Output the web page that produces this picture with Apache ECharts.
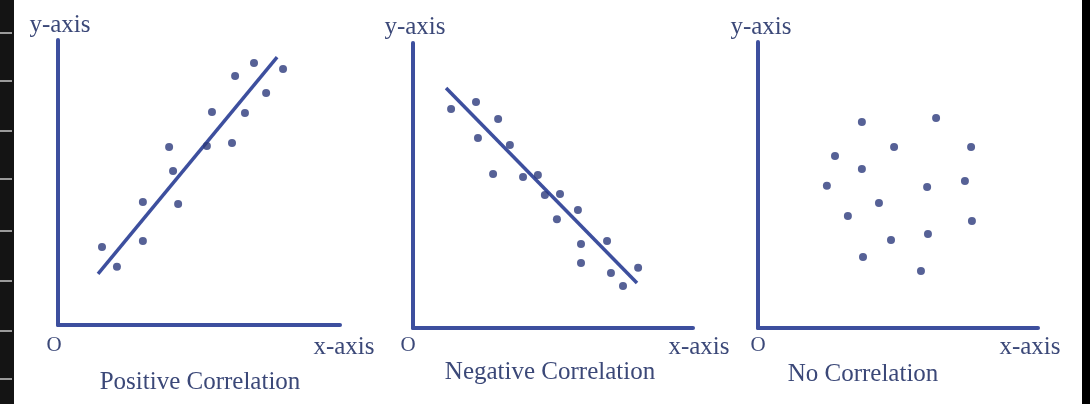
<!DOCTYPE html>
<html>
<head>
<meta charset="utf-8">
<script src="https://cdn.jsdelivr.net/npm/echarts@6/dist/echarts.min.js"></script>
<style>
html,body{margin:0;padding:0;background:#fff;}
#chart{width:1090px;height:404px;}
</style>
</head>
<body>
<div id="chart"></div>
<script>
// ---- Data (values on a 0-100 scale for each panel) ----
var panelTitles = ["Positive Correlation", "Negative Correlation", "No Correlation"];
var axisLabelX = "x-axis";
var axisLabelY = "y-axis";
var originLabel = "O";

var positivePoints = [
  [15.6, 27.4], [20.9, 20.4], [30.1, 43.2], [30.1, 29.5], [39.4, 62.5],
  [40.8, 54.0], [42.6, 42.5], [52.8, 62.8], [54.6, 74.7], [61.7, 63.9],
  [62.8, 87.4], [66.3, 74.4], [69.5, 91.9], [73.8, 81.4], [79.8, 89.8]
];
var positiveLine = [[14.2, 17.9], [77.7, 94.0]];

var negativePoints = [
  [13.6, 76.8], [22.5, 79.3], [23.2, 66.7], [30.4, 73.3], [34.6, 64.2],
  [28.6, 54.0], [39.3, 53.0], [44.6, 53.7], [47.1, 46.7], [52.5, 47.0],
  [51.4, 38.2], [58.9, 41.4], [60.0, 29.5], [60.0, 22.8], [69.3, 30.5],
  [70.7, 19.3], [75.0, 14.7], [80.4, 21.1]
];
var negativeLine = [[11.8, 84.2], [80.0, 15.8]];

var noCorrPoints = [
  [37.1, 72.0], [63.6, 73.4], [48.6, 63.3], [76.1, 63.3], [27.5, 60.1],
  [37.1, 55.6], [24.6, 49.7], [60.4, 49.3], [73.9, 51.4], [43.2, 43.7],
  [32.1, 39.2], [76.4, 37.4], [47.5, 30.8], [60.7, 32.9], [37.5, 24.8],
  [58.2, 19.9]
];

// ---- Styling / layout ----
var axisColor = "#3d4f9e";
var dotColor = "#2c3a7c";
var textColor = "#3b4878";
var fontFam = "'Liberation Serif', 'DejaVu Serif', serif";

var grids = [
  {left: 58, top: 40, width: 282, height: 285},
  {left: 413, top: 43, width: 280, height: 285},
  {left: 758, top: 42, width: 280, height: 286}
];

function mkAxis(i) {
  return {
    type: 'value', gridIndex: i, min: 0, max: 100,
    axisLine: {show: true, lineStyle: {color: axisColor, width: 4}},
    axisTick: {show: false}, axisLabel: {show: false}, splitLine: {show: false}
  };
}

var xAxes = [0,1,2].map(mkAxis);
var yAxes = [0,1,2].map(mkAxis);

function scatter(i, data) {
  return {type: 'scatter', xAxisIndex: i, yAxisIndex: i, data: data,
    symbolSize: 8, itemStyle: {color: dotColor}, z: 3, silent: true};
}
function fitLine(i, data) {
  return {type: 'line', xAxisIndex: i, yAxisIndex: i, data: data,
    showSymbol: false, lineStyle: {color: axisColor, width: 3.5}, z: 2, silent: true};
}

function txt(x, y, s, size) {
  return {type: 'text', x: x, y: y, z: 10,
    style: {text: s, fill: textColor, font: (size || 25) + 'px ' + fontFam,
      textAlign: 'center', textVerticalAlign: 'middle'}};
}

var graphics = [
  {type: 'rect', shape: {x: 0, y: 0, width: 14, height: 404}, style: {fill: '#141414'}, z: 0},
  {type: 'rect', shape: {x: 1082, y: 0, width: 8, height: 404}, style: {fill: '#000'}, z: 0}
];
[32, 80, 130, 178, 230, 280, 330, 378].forEach(function (yy) {
  graphics.push({type: 'rect', shape: {x: 0, y: yy, width: 12, height: 2}, style: {fill: '#9a9a9a'}, z: 1});
});

var yLabPos = [[60, 25], [415, 27], [761, 27]];
var oPos = [[54, 345], [408, 345], [758, 345]];
var xLabPos = [[344, 347], [699, 347], [1030, 347]];
var titlePos = [[200, 382], [550, 372], [863, 374]];
for (var i = 0; i < 3; i++) {
  graphics.push(txt(yLabPos[i][0], yLabPos[i][1], axisLabelY));
  graphics.push(txt(oPos[i][0], oPos[i][1], originLabel, 21));
  graphics.push(txt(xLabPos[i][0], xLabPos[i][1], axisLabelX));
  graphics.push(txt(titlePos[i][0], titlePos[i][1], panelTitles[i]));
}

var chart = echarts.init(document.getElementById('chart'), null, {renderer: 'canvas'});
chart.setOption({
  backgroundColor: '#fff',
  animation: false,
  grid: grids,
  xAxis: xAxes,
  yAxis: yAxes,
  series: [
    scatter(0, positivePoints), fitLine(0, positiveLine),
    scatter(1, negativePoints), fitLine(1, negativeLine),
    scatter(2, noCorrPoints)
  ],
  graphic: graphics
});
</script>
</body>
</html>
